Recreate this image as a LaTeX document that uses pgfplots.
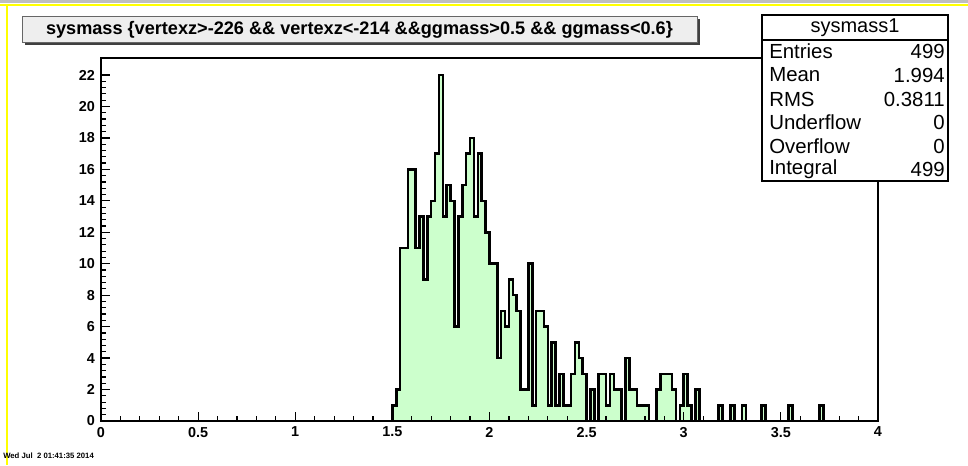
\documentclass[border=0pt]{standalone}
\usepackage{pgfplots}
\pgfplotsset{compat=1.18}
\usepackage{fontspec}
\setmainfont{Liberation Sans}
\definecolor{histfill}{RGB}{204,255,204}
\definecolor{titlebg}{RGB}{238,238,238}
\definecolor{topgray}{RGB}{190,190,190}
\definecolor{ryellow}{RGB}{255,255,0}

\pgfplotstableread{
x y
0.00 0
1.50 1
1.52 2
1.54 11
1.56 11
1.58 16
1.60 16
1.62 11
1.64 13
1.66 9
1.68 13
1.70 14
1.72 17
1.74 22
1.76 13
1.78 15
1.80 14
1.82 6
1.84 13
1.86 15
1.88 17
1.90 18
1.92 13
1.94 17
1.96 14
1.98 12
2.00 10
2.02 10
2.04 4
2.06 7
2.08 6
2.10 9
2.12 8
2.14 7
2.16 2
2.18 2
2.20 10
2.22 1
2.24 7
2.26 7
2.28 6
2.30 1
2.32 5
2.34 1
2.36 3
2.38 1
2.40 1
2.42 3
2.44 5
2.46 4
2.48 3
2.50 0
2.52 2
2.54 0
2.56 3
2.58 3
2.60 1
2.62 3
2.64 2
2.66 2
2.68 0
2.70 4
2.72 2
2.74 2
2.76 1
2.78 1
2.80 1
2.82 0
2.86 2
2.88 3
2.90 3
2.92 3
2.94 2
2.96 0
2.98 1
3.00 3
3.02 1
3.04 0
3.06 2
3.08 0
3.18 1
3.20 0
3.24 1
3.26 0
3.30 1
3.32 0
3.40 1
3.42 0
3.54 1
3.56 0
3.70 1
3.72 0
4.00 0
}\histdata

\begin{document}
\begin{tikzpicture}
\begin{scope}[x=0.75pt,y=-0.75pt]
\fill[white] (0,0) rectangle (968,465);
\path[use as bounding box] (0,0) rectangle (968,465);
\fill[topgray] (0,0) rectangle (968,3);
\draw[ryellow, line width=1.5pt] (0,5) -- (968,5);
\draw[ryellow, line width=1.5pt] (7,5) -- (7,465);
\end{scope}

\begin{axis}[
  at={(75.75pt,-315.75pt)}, anchor=south west,
  scale only axis, width=582.75pt, height=272.25pt,
  xmin=0, xmax=4, ymin=0, ymax=23.08,
  axis line style={line width=1.6pt},
  axis on top,
  xtick={0,0.5,...,4}, minor x tick num=4,
  ytick={0,2,...,22}, minor y tick num=4,
  xtick pos=left, ytick pos=left,
  tick align=inside,
  major tick length=7pt, minor tick length=3.5pt,
  every tick/.style={black, line width=0.9pt},
  /pgf/number format/assume math mode=true,
  tick label style={font=\fontsize{10.8}{12}\bfseries\selectfont},
  yticklabel style={xshift=-1pt},
  xticklabel style={yshift=-1pt},
  clip=false,
]
\addplot[const plot, fill=histfill, draw=black, line width=1.9pt, line join=miter] table[x=x,y=y] {\histdata} \closedcycle;
\end{axis}

\begin{scope}[x=0.75pt,y=-0.75pt]
% title box
\fill[black!75] (25,19) rectangle (700,45);
\filldraw[fill=titlebg, draw=black!60, line width=0.6pt] (22,16) rectangle (697,42);
\node[font=\bfseries\fontsize{13.6}{15}\selectfont, inner sep=0pt] at (359.5,29.5) {sysmass \{vertexz>-226 \&\& vertexz<-214 \&\&ggmass>0.5 \&\& ggmass<0.6\}};
% stats box
\filldraw[fill=white, draw=black, line width=0.8pt] (762,15) rectangle (948,181);
\draw[line width=0.8pt] (762,40) -- (948,40);
\node[font=\fontsize{15}{17}\selectfont, inner sep=0pt] at (855,27.5) {sysmass1};
\foreach \yy/\a/\b in {51/Entries/499, 75/Mean/1.994, 99/RMS/0.3811, 122.5/Underflow/0, 146/Overflow/0, 169/Integral/499} {
  \node[anchor=west, font=\fontsize{15.3}{17}\selectfont, inner sep=0pt] at (769,\yy) {\a};
  \node[anchor=east, font=\fontsize{15.3}{17}\selectfont, inner sep=0pt] at (945,\yy) {\b};
}
% date
\node[anchor=west, font=\bfseries\fontsize{5.8}{7}\selectfont, inner sep=0pt] at (3,456) {Wed Jul\ \ 2 01:41:35 2014};
\end{scope}
\end{tikzpicture}
\end{document}
